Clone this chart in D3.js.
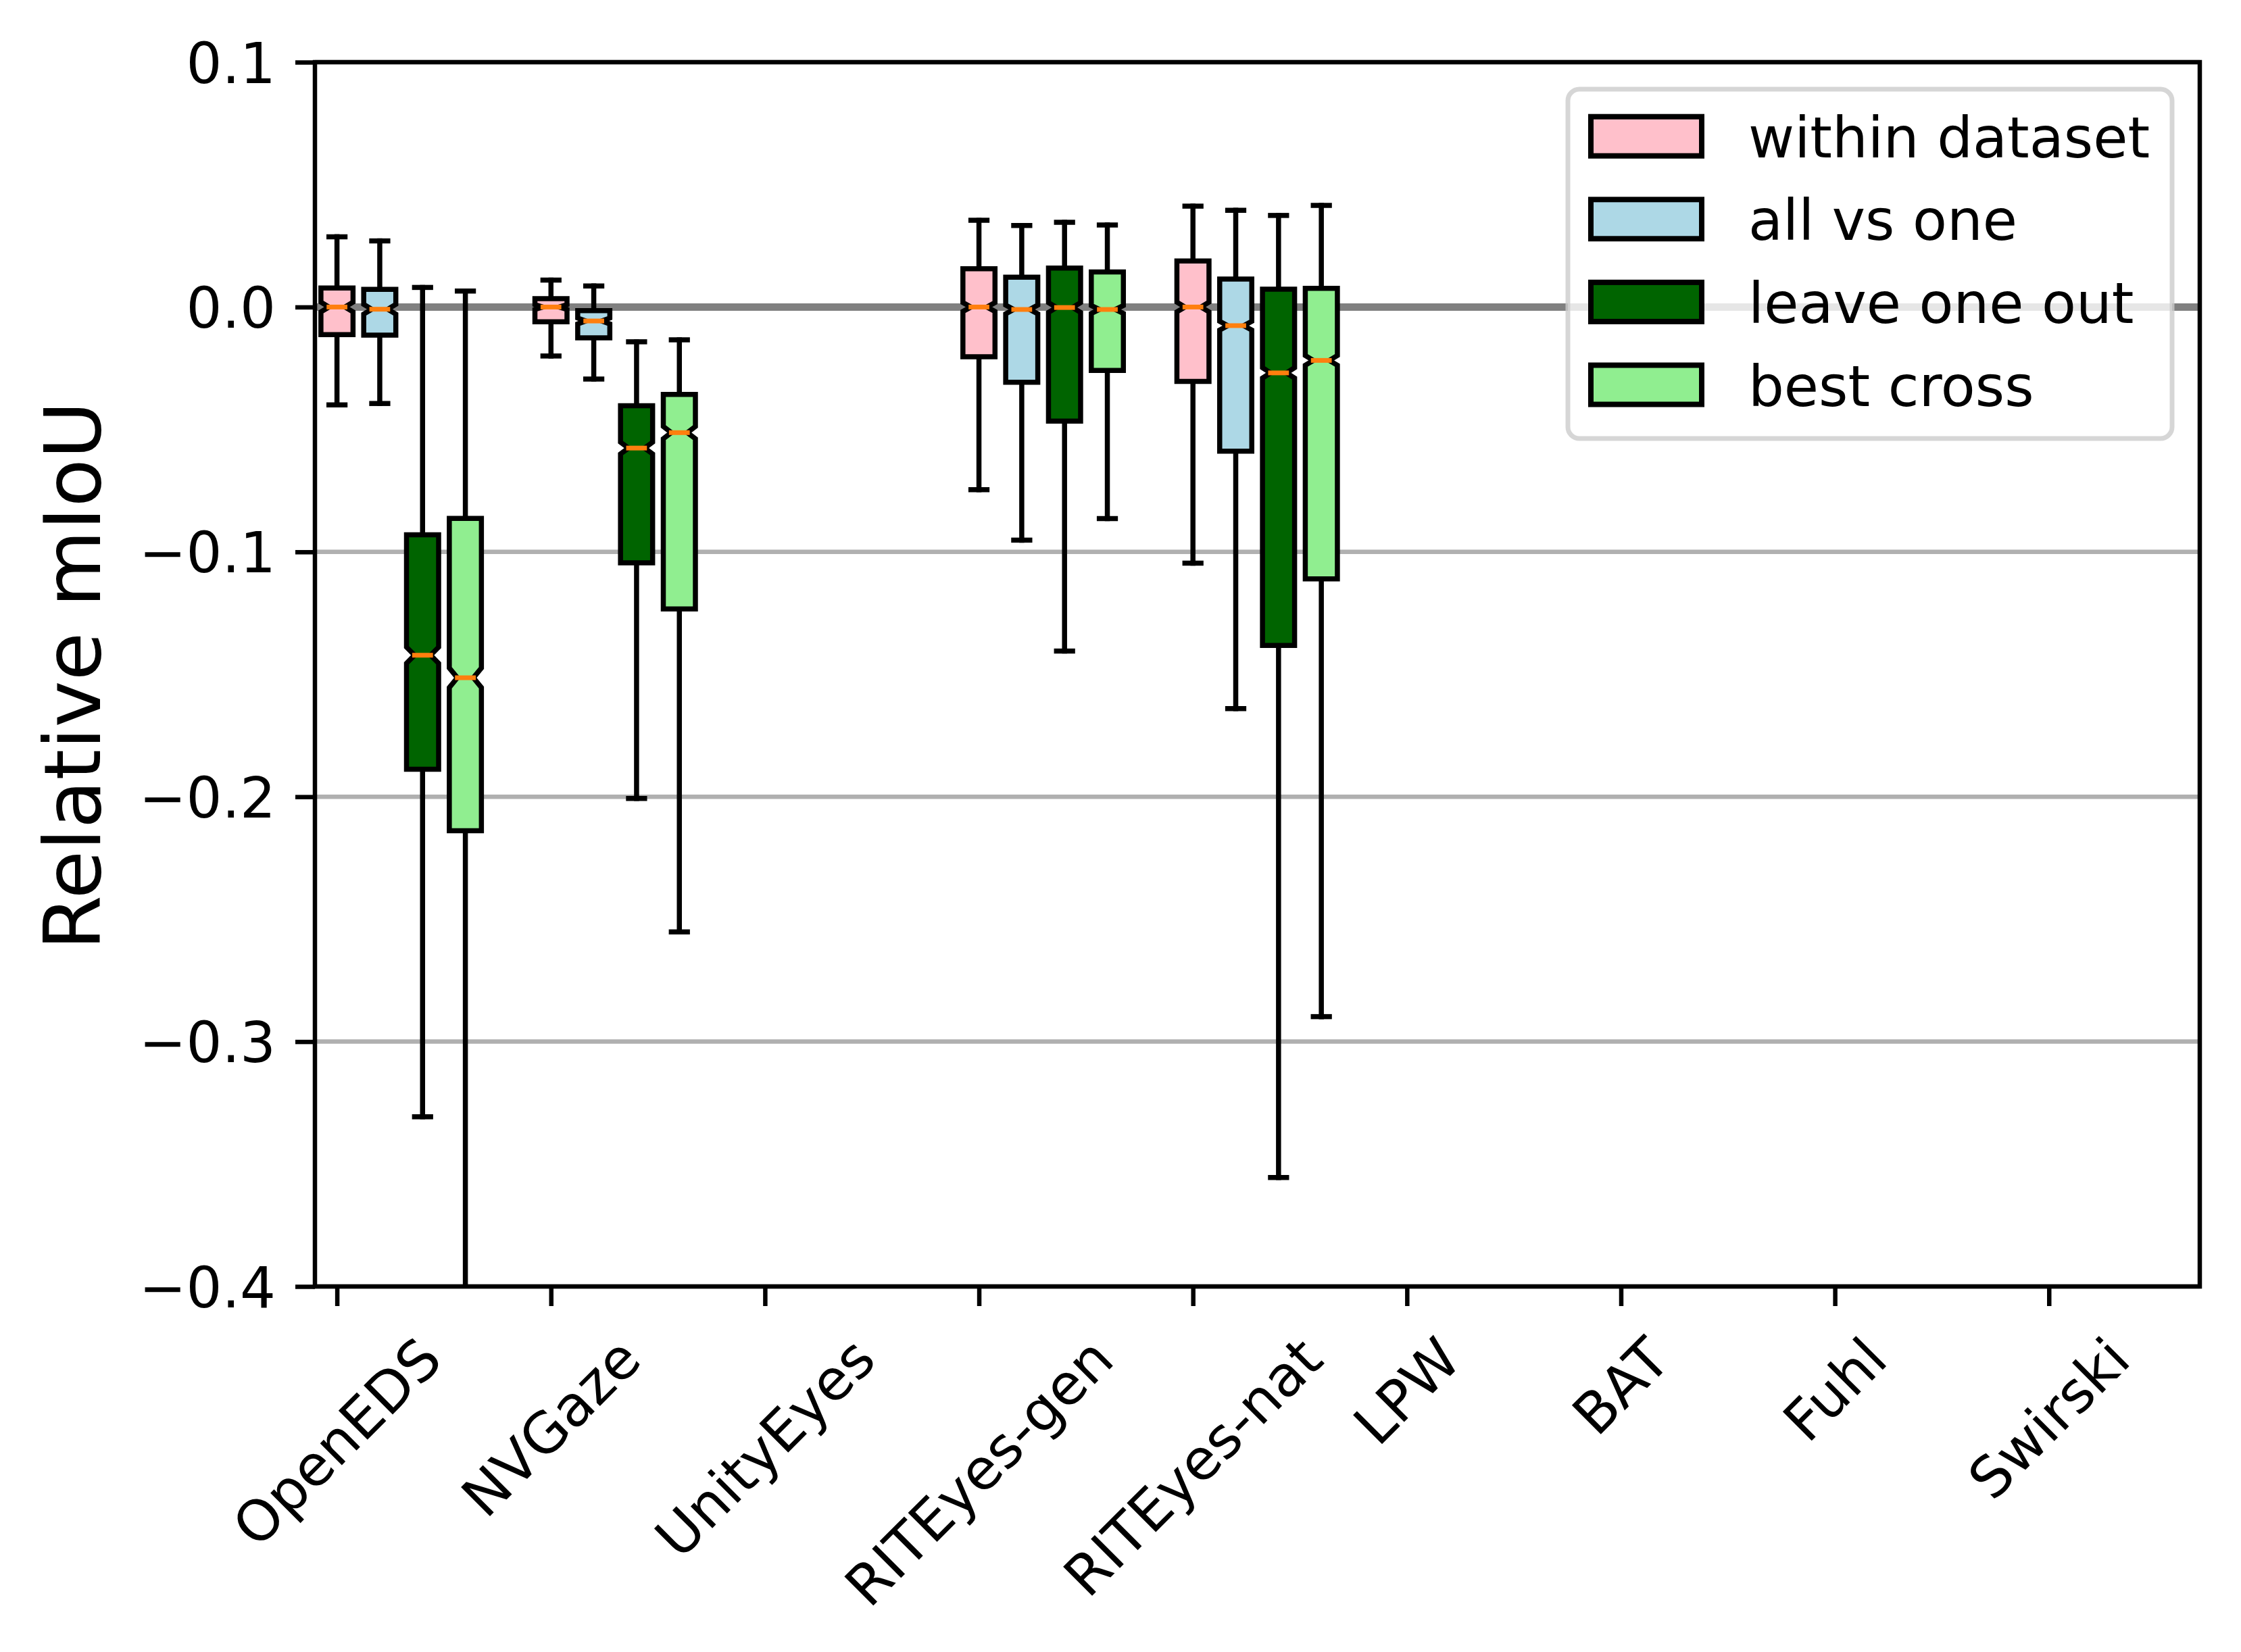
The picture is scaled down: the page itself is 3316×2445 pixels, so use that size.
<!DOCTYPE html>
<html>
<head>
<meta charset="utf-8">
<script src="https://cdn.jsdelivr.net/npm/d3@7"></script>
<style>
  body { margin: 0; background: #ffffff; }
  svg { display: block; font-family: "DejaVu Sans", sans-serif; }
</style>
</head>
<body>
<div id="chart"></div>
<script>
// Relative mIoU box plots per dataset, four evaluation settings

const categories = ['OpenEDS', 'NVGaze', 'UnityEyes', 'RITEyes-gen', 'RITEyes-nat', 'LPW', 'BAT', 'Fuhl', 'Swirski'];
const seriesNames = ['within dataset', 'all vs one', 'leave one out', 'best cross'];

// one entry per category: [whisker low, q1, median, q3, whisker high, notch half-height]
const withinDataset = [
  [-0.0400, -0.0113, 0.0000, 0.0078, 0.0287, 0.0020],
  [-0.0200, -0.0060, 0.0000, 0.0034, 0.0110, 0.0010],
  null,
  [-0.0746, -0.0203, 0.0000, 0.0156, 0.0354, 0.0018],
  [-0.1046, -0.0304, 0.0000, 0.0188, 0.0412, 0.0020],
  null, null, null, null
];
const allVsOne = [
  [-0.0394, -0.0115, -0.0009, 0.0072, 0.0270, 0.0020],
  [-0.0294, -0.0126, -0.0057, -0.0015, 0.0086, 0.0012],
  null,
  [-0.0952, -0.0307, -0.0010, 0.0122, 0.0333, 0.0018],
  [-0.1640, -0.0589, -0.0076, 0.0114, 0.0395, 0.0018],
  null, null, null, null
];
const leaveOneOut = [
  [-0.3307, -0.1888, -0.1422, -0.0930, 0.0080, 0.0033],
  [-0.2007, -0.1045, -0.0576, -0.0403, -0.0142, 0.0024],
  null,
  [-0.1405, -0.0466, -0.0002, 0.0159, 0.0346, 0.0020],
  [-0.3555, -0.1382, -0.0269, 0.0073, 0.0374, 0.0021],
  null, null, null, null
];
const bestCross = [
  [-0.4500, -0.2139, -0.1514, -0.0863, 0.0065, 0.0040],
  [-0.2552, -0.1233, -0.0513, -0.0357, -0.0134, 0.0025],
  null,
  [-0.0864, -0.0259, -0.0010, 0.0143, 0.0335, 0.0016],
  [-0.2898, -0.1110, -0.0218, 0.0076, 0.0415, 0.0020],
  null, null, null, null
];
const yTicks = [0.1, 0.0, -0.1, -0.2, -0.3, -0.4];

// layout and style
const W = 3316, H = 2445;
const plot = { left: 466, right: 3255, top: 92, bottom: 1904 };
const seriesData = [withinDataset, allVsOne, leaveOneOut, bestCross];
const fills = ['#ffc0cb', '#add8e6', '#006400', '#90ee90'];
const offsets = [0, 0.2, 0.4, 0.6];
const boxWidth = 0.15;
const lw = 7.5;
const tickFont = 83.3;

const x = d3.scaleLinear().domain([0.897, 9.705]).range([plot.left, plot.right]);
const y = d3.scaleLinear().domain([-0.4, 0.1]).range([plot.bottom, plot.top]);

const svg = d3.select('#chart').append('svg')
  .attr('width', W)
  .attr('height', H);

svg.append('rect').attr('width', W).attr('height', H).attr('fill', '#ffffff');

svg.append('defs').append('clipPath').attr('id', 'plot-clip')
  .append('rect')
  .attr('x', plot.left).attr('y', plot.top)
  .attr('width', plot.right - plot.left)
  .attr('height', plot.bottom - plot.top);

// horizontal grid
svg.append('g').attr('class', 'grid')
  .selectAll('line').data(yTicks).join('line')
  .attr('x1', plot.left).attr('x2', plot.right)
  .attr('y1', d => y(d)).attr('y2', d => y(d))
  .attr('stroke', '#b0b0b0')
  .attr('stroke-width', 6.5);

// zero reference line
svg.append('line')
  .attr('x1', plot.left).attr('x2', plot.right)
  .attr('y1', y(0)).attr('y2', y(0))
  .attr('stroke', '#808080')
  .attr('stroke-width', 11);

// flatten boxes
const boxes = [];
seriesData.forEach((arr, s) => {
  arr.forEach((v, i) => {
    if (!v) return;
    boxes.push({
      s: s, pos: i + 1 + offsets[s],
      lo: v[0], q1: v[1], med: v[2], q3: v[3], hi: v[4], notch: v[5]
    });
  });
});

function boxPath(b) {
  const bl = x(b.pos - boxWidth / 2), br = x(b.pos + boxWidth / 2);
  const nl = x(b.pos - boxWidth / 4), nr = x(b.pos + boxWidth / 4);
  const cilo = y(b.med - b.notch), cihi = y(b.med + b.notch), m = y(b.med);
  return `M${bl},${y(b.q1)} L${br},${y(b.q1)} L${br},${cilo} L${nr},${m} L${br},${cihi} ` +
         `L${br},${y(b.q3)} L${bl},${y(b.q3)} L${bl},${cihi} L${nl},${m} L${bl},${cilo} Z`;
}

const g = svg.append('g').attr('clip-path', 'url(#plot-clip)');

// whiskers
const whiskers = [];
boxes.forEach(b => {
  whiskers.push({ pos: b.pos, a: b.q1, b: b.lo });
  whiskers.push({ pos: b.pos, a: b.q3, b: b.hi });
});
g.append('g').selectAll('line').data(whiskers).join('line')
  .attr('x1', d => x(d.pos)).attr('x2', d => x(d.pos))
  .attr('y1', d => y(d.a)).attr('y2', d => y(d.b))
  .attr('stroke', '#000')
  .attr('stroke-width', lw)
  .attr('stroke-linecap', 'square');

// caps
g.append('g').selectAll('line').data(whiskers).join('line')
  .attr('x1', d => x(d.pos - boxWidth / 4)).attr('x2', d => x(d.pos + boxWidth / 4))
  .attr('y1', d => y(d.b)).attr('y2', d => y(d.b))
  .attr('stroke', '#000')
  .attr('stroke-width', lw)
  .attr('stroke-linecap', 'square');

// notched boxes
g.append('g').selectAll('path').data(boxes).join('path')
  .attr('d', boxPath)
  .attr('fill', d => fills[d.s])
  .attr('stroke', '#000')
  .attr('stroke-width', lw)
  .attr('stroke-linejoin', 'miter')
  .attr('stroke-miterlimit', 10);

// medians
g.append('g').selectAll('line').data(boxes).join('line')
  .attr('x1', d => x(d.pos - boxWidth / 4)).attr('x2', d => x(d.pos + boxWidth / 4))
  .attr('y1', d => y(d.med)).attr('y2', d => y(d.med))
  .attr('stroke', '#ff7f0e')
  .attr('stroke-width', 7)
  .attr('stroke-linecap', 'square');

// y axis
const yAxis = d3.axisLeft(y)
  .tickValues(yTicks)
  .tickFormat(d3.format('.1f'))
  .tickSize(29)
  .tickPadding(29)
  .tickSizeOuter(0);

const yAxisGroup = svg.append('g')
  .attr('transform', `translate(${plot.left},0)`)
  .call(yAxis);
yAxisGroup.select('.domain').remove();
yAxisGroup.selectAll('.tick line').attr('stroke', '#000').attr('stroke-width', 6.5);
yAxisGroup.selectAll('.tick text')
  .attr('fill', '#000')
  .attr('dy', '0.36em')
  .style('font-family', '"DejaVu Sans", sans-serif')
  .style('font-size', tickFont + 'px');

// x axis
const xAxis = d3.axisBottom(x)
  .tickValues(d3.range(1, categories.length + 1))
  .tickFormat(i => categories[i - 1])
  .tickSize(29)
  .tickPadding(29)
  .tickSizeOuter(0);

const xAxisGroup = svg.append('g')
  .attr('transform', `translate(0,${plot.bottom})`)
  .call(xAxis);
xAxisGroup.select('.domain').remove();
xAxisGroup.selectAll('.tick line').attr('stroke', '#000').attr('stroke-width', 6.5);
xAxisGroup.selectAll('.tick text')
  .attr('fill', '#000')
  .attr('dy', null)
  .style('font-family', '"DejaVu Sans", sans-serif')
  .style('font-size', tickFont + 'px')
  .attr('text-anchor', 'middle')
  .attr('dominant-baseline', 'central')
  .each(function() {
    // rotated label: its bounding box is centred on the tick and hangs below it
    const w = this.getComputedTextLength();
    const h = tickFont * 1.164;
    const cy = 58 + (w + h) * Math.SQRT1_2 / 2;
    d3.select(this)
      .attr('x', 0)
      .attr('y', cy)
      .attr('transform', `rotate(-45,0,${cy})`);
  });

// spines
svg.append('rect')
  .attr('x', plot.left).attr('y', plot.top)
  .attr('width', plot.right - plot.left)
  .attr('height', plot.bottom - plot.top)
  .attr('fill', 'none')
  .attr('stroke', '#000')
  .attr('stroke-width', 6.5);

// y label
svg.append('text')
  .attr('x', 148).attr('y', 1000)
  .attr('transform', 'rotate(-90,148,1000)')
  .attr('text-anchor', 'middle')
  .style('font-size', '116.7px')
  .attr('fill', '#000')
  .text('Relative mIoU');

// legend
const legend = svg.append('g').attr('class', 'legend');
legend.append('rect')
  .attr('x', 2320).attr('y', 132)
  .attr('width', 894).attr('height', 517)
  .attr('rx', 17).attr('ry', 17)
  .attr('fill', '#ffffff').attr('fill-opacity', 0.8)
  .attr('stroke', '#cccccc').attr('stroke-opacity', 0.8)
  .attr('stroke-width', 7);

const rows = legend.selectAll('g.row').data(seriesNames).join('g')
  .attr('class', 'row')
  .attr('transform', (d, i) => `translate(0,${201.7 + i * 122.6})`);

rows.append('rect')
  .attr('x', 2354).attr('y', -29)
  .attr('width', 164).attr('height', 58)
  .attr('fill', (d, i) => fills[i])
  .attr('stroke', '#000')
  .attr('stroke-width', 8);

rows.append('text')
  .attr('x', 2587).attr('y', 31)
  .style('font-size', '83.3px')
  .attr('fill', '#000')
  .text(d => d);
</script>
</body>
</html>
